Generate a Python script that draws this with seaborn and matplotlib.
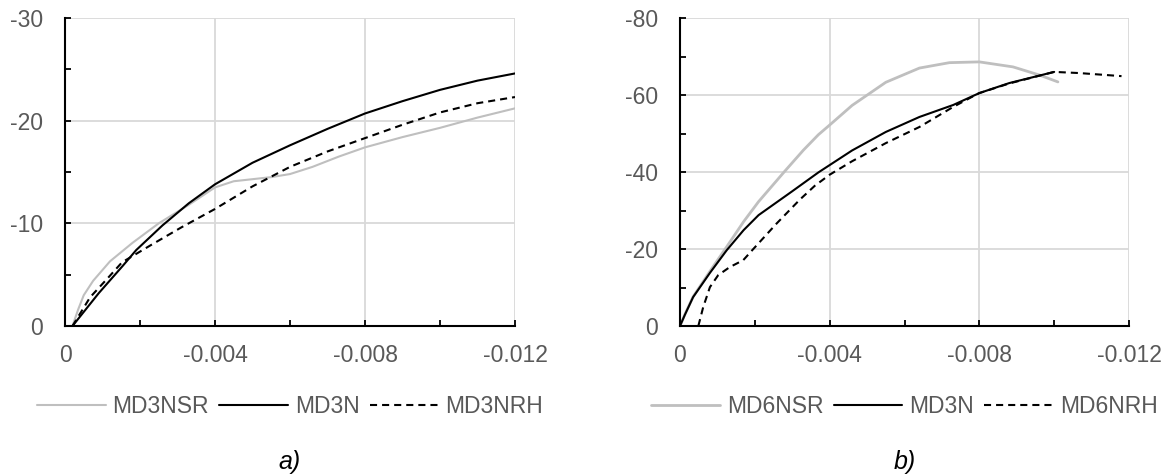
import numpy as np
import pandas as pd
import matplotlib
matplotlib.use("Agg")
import matplotlib.pyplot as plt
from matplotlib.ticker import MultipleLocator, FixedLocator, FuncFormatter
import seaborn as sns

# ---------------- data (strain, stress) ----------------
# Panel a
a_nsr_x = [-0.0002, -0.00035, -0.0005, -0.00075, -0.0012, -0.0018, -0.0025, -0.0033, -0.0040,
           -0.0045, -0.0050, -0.0055, -0.0060, -0.0066, -0.0073, -0.0080, -0.0090, -0.0100,
           -0.0110, -0.0120]
a_nsr_y = [0, -1.6, -3.0, -4.4, -6.3, -8.1, -10.0, -11.8, -13.5,
           -14.1, -14.3, -14.5, -14.8, -15.5, -16.5, -17.4, -18.4, -19.3,
           -20.3, -21.2]

a_n_x = [-0.0002, -0.0009, -0.00155, -0.0019, -0.0026, -0.0033, -0.0040, -0.0050, -0.0060,
         -0.0070, -0.0080, -0.0090, -0.0100, -0.0110, -0.0120]
a_n_y = [0, -3.2, -5.9, -7.4, -9.8, -11.95, -13.8, -15.9, -17.6,
         -19.2, -20.7, -21.9, -23.0, -23.9, -24.6]

a_nrh_x = [-0.0002, -0.00067, -0.00115, -0.00152, -0.0023, -0.0031, -0.0040, -0.0050, -0.0060,
           -0.0070, -0.0080, -0.0090, -0.0100, -0.0110, -0.0120]
a_nrh_y = [0, -2.8, -4.7, -6.2, -7.9, -9.6, -11.4, -13.6, -15.5,
           -17.0, -18.3, -19.6, -20.8, -21.7, -22.3]

# Panel b
b_nsr_x = [0, -0.00013, -0.00035, -0.0008, -0.00125, -0.0017, -0.0021, -0.0028, -0.0033, -0.0037,
           -0.0040, -0.0046, -0.0055, -0.0064, -0.0072, -0.0080, -0.0089, -0.0096, -0.0101]
b_nsr_y = [0, -3.0, -7.6, -14.2, -20.6, -27.1, -32.3, -40.2, -45.7, -49.7,
           -52.2, -57.3, -63.3, -67.0, -68.4, -68.6, -67.3, -65.2, -63.4]

b_n_x = [0, -0.00013, -0.00035, -0.0008, -0.00125, -0.0017, -0.0021, -0.0030, -0.0037,
         -0.0046, -0.0055, -0.0064, -0.0073, -0.0080, -0.0088, -0.0100]
b_n_y = [0, -2.9, -7.5, -13.8, -19.7, -24.9, -28.8, -35.0, -39.9,
         -45.6, -50.4, -54.3, -57.4, -60.5, -63.1, -66.0]

b_nrh_x = [-0.00049, -0.00062, -0.0008, -0.00102, -0.00133, -0.00169, -0.00195, -0.00258, -0.0032,
           -0.0036, -0.0040, -0.0046, -0.0055, -0.0064, -0.0073, -0.0078, -0.0080, -0.0088,
           -0.0100, -0.01067, -0.0118]
b_nrh_y = [0, -4.9, -10.1, -13.2, -15.3, -17.1, -19.9, -26.6, -32.8,
           -36.4, -39.3, -42.8, -47.5, -51.7, -56.9, -59.5, -60.5, -63.0,
           -66.0, -65.7, -64.9]

labels_a = ["MD3NSR", "MD3N", "MD3NRH"]
labels_b = ["MD6NSR", "MD3N", "MD6NRH"]
xticks = [0, -0.004, -0.008, -0.012]
yticks_a = [0, -10, -20, -30]
yticks_b = [0, -20, -40, -60, -80]
panel_titles = ["a)", "b)"]

# ---------------- style ----------------
sns.set_style("white")
plt.rcParams["font.family"] = ["Liberation Sans", "DejaVu Sans"]
plt.rcParams["axes.unicode_minus"] = False

TXT = "#595959"
GRAY = "#bfbfbf"
GRID = "#d9d9d9"
FS = 16.5

fig = plt.figure(figsize=(11.69, 4.74), dpi=100)
W, H = 1169, 474
ax_a = fig.add_axes([65 / W, 1 - 326 / H, 450 / W, 308 / H])
ax_b = fig.add_axes([680 / W, 1 - 326 / H, 449 / W, 308 / H])


def draw(ax, series, labels, ylim, yticks, ymin_step, gray_lw, title):
    styles = [dict(color=GRAY, lw=gray_lw, linestyle="-"),
              dict(color="black", lw=1.5, linestyle="-"),
              dict(color="black", lw=1.5, linestyle=(0, (3.4, 2.4)))]
    for (x, y), lab, st in zip(series, labels, styles):
        df = pd.DataFrame({"x": x, "y": y})
        sns.lineplot(data=df, x="x", y="y", ax=ax, sort=False, estimator=None,
                     label=lab, **st)
    ax.set_xlim(0, -0.012)
    ax.set_ylim(*ylim)
    ax.xaxis.set_major_locator(FixedLocator(xticks))
    ax.xaxis.set_minor_locator(MultipleLocator(0.002))
    ax.yaxis.set_major_locator(FixedLocator(yticks))
    ax.yaxis.set_minor_locator(MultipleLocator(ymin_step))
    fmt = FuncFormatter(lambda v, p: "0" if abs(v) < 1e-12 else f"{v:g}")
    ax.xaxis.set_major_formatter(fmt)
    ax.yaxis.set_major_formatter(fmt)
    ax.set_xlabel("")
    ax.set_ylabel("")
    ax.grid(True, which="major", color=GRID, lw=1.3)
    ax.set_axisbelow(True)
    for s in ["top", "right"]:
        ax.spines[s].set_visible(False)
    for s in ["left", "bottom"]:
        ax.spines[s].set_color("black")
        ax.spines[s].set_linewidth(1.5)
        ax.spines[s].set_zorder(5)
    ax.tick_params(which="both", direction="in", length=4.5, width=1.3, color="black",
                   bottom=True, left=True, top=False, right=False,
                   labelsize=FS, labelcolor=TXT)
    ax.tick_params(axis="y", which="major", pad=16)
    ax.tick_params(axis="x", which="major", pad=13)
    ax.legend(loc="center", bbox_to_anchor=(0.5, -0.262), ncol=3, frameon=False,
              fontsize=FS, handlelength=3.0, handletextpad=0.3, columnspacing=0.45,
              labelcolor=TXT)
    ax.text(0.5, -0.443, title, transform=ax.transAxes, ha="center", va="center",
            fontsize=18, style="italic", color="black")


draw(ax_a, [(a_nsr_x, a_nsr_y), (a_n_x, a_n_y), (a_nrh_x, a_nrh_y)], labels_a,
     (0, -30), yticks_a, 5, 1.5, panel_titles[0])
draw(ax_b, [(b_nsr_x, b_nsr_y), (b_n_x, b_n_y), (b_nrh_x, b_nrh_y)], labels_b,
     (0, -80), yticks_b, 10, 2.0, panel_titles[1])

fig.savefig("out.png", dpi=100, facecolor="white")
